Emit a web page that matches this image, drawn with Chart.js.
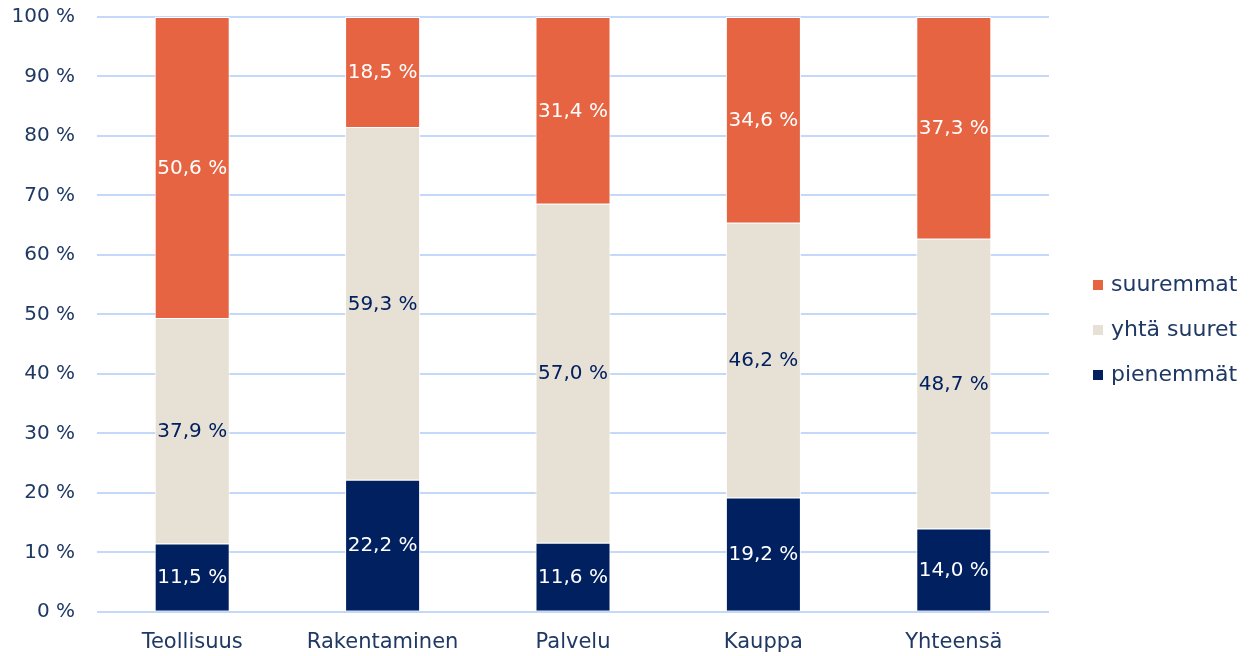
<!DOCTYPE html>
<html>
<head>
<meta charset="utf-8">
<script src="https://cdn.jsdelivr.net/npm/chart.js@4"></script>
<style>
html,body{margin:0;padding:0;background:#fff;}
#wrap{width:1252px;height:656px;}
</style>
</head>
<body>
<div id="wrap"><canvas id="c" width="1252" height="656"></canvas></div>
<script>
const categories = ["Teollisuus", "Rakentaminen", "Palvelu", "Kauppa", "Yhteensä"];
const pienemmat = [11.5, 22.2, 11.6, 19.2, 14.0];
const yhtaSuuret = [37.9, 59.3, 57.0, 46.2, 48.7];
const suuremmat = [50.6, 18.5, 31.4, 34.6, 37.3];
const yTicks = [0, 10, 20, 30, 40, 50, 60, 70, 80, 90, 100];

const NAVY = '#002060';
const TEXT = '#1F3864';
const FONT = '"DejaVu Sans", sans-serif';

const labelPlugin = {
  id: 'segLabels',
  afterDatasetsDraw(chart) {
    const ctx = chart.ctx;
    ctx.save();
    ctx.font = '20px ' + FONT;
    ctx.textAlign = 'center';
    ctx.textBaseline = 'middle';
    chart.data.datasets.forEach((ds, i) => {
      const meta = chart.getDatasetMeta(i);
      meta.data.forEach((el, j) => {
        const p = el.getProps(['x', 'y', 'base'], true);
        ctx.fillStyle = ds.labelColor;
        const txt = ds.data[j].toFixed(1).replace('.', ',') + ' %';
        ctx.fillText(txt, p.x, (p.y + p.base) / 2 + 1);
      });
    });
    ctx.restore();
  }
};

const legendPlugin = {
  id: 'sideLegend',
  afterDraw(chart) {
    const ctx = chart.ctx;
    const ds = chart.data.datasets.slice().reverse();
    const left = chart.chartArea.right + 44;
    const midY = 330;
    const step = 45;
    ctx.save();
    ctx.font = '22px ' + FONT;
    ctx.textBaseline = 'middle';
    ctx.textAlign = 'left';
    ds.forEach((d, i) => {
      const cy = midY + (i - (ds.length - 1) / 2) * step;
      ctx.fillStyle = d.backgroundColor;
      ctx.fillRect(left, cy - 5, 10, 10);
      ctx.fillStyle = TEXT;
      ctx.fillText(d.label, left + 18, cy);
    });
    ctx.restore();
  }
};

new Chart(document.getElementById('c'), {
  type: 'bar',
  data: {
    labels: categories,
    datasets: [
      { label: 'pienemmät', data: pienemmat, backgroundColor: NAVY, borderColor: '#fff', borderWidth: 1, labelColor: '#ffffff' },
      { label: 'yhtä suuret', data: yhtaSuuret, backgroundColor: '#E7E0D4', borderColor: '#fff', borderWidth: 1, labelColor: NAVY },
      { label: 'suuremmat', data: suuremmat, backgroundColor: '#E66442', borderColor: '#fff', borderWidth: 1, labelColor: '#ffffff' }
    ]
  },
  options: {
    responsive: false,
    animation: false,
    devicePixelRatio: 1,
    layout: { padding: { top: 17, right: 203, bottom: 0, left: 0 } },
    datasets: { bar: { categoryPercentage: 1, barPercentage: 0.394 } },
    plugins: {
      tooltip: { enabled: false },
      legend: { display: false }
    },
    scales: {
      x: {
        stacked: true,
        grid: { display: false },
        border: { display: false },
        afterFit(scale) { scale.height -= 9; },
        ticks: { color: TEXT, font: { size: 21, family: FONT }, padding: 10 }
      },
      y: {
        stacked: true,
        min: 0,
        max: 100,
        afterBuildTicks(axis) { axis.ticks = yTicks.map(v => ({ value: v })); },
        afterFit(scale) { scale.paddingTop = 0; scale.paddingBottom = 0; scale.width = 97; },
        grid: { color: '#C4D8F9', lineWidth: 2, drawTicks: false },
        border: { display: false },
        ticks: { color: TEXT, font: { size: 20, family: FONT }, padding: 22, callback: v => v + ' %' }
      }
    }
  },
  plugins: [labelPlugin, legendPlugin]
});
</script>
</body>
</html>
